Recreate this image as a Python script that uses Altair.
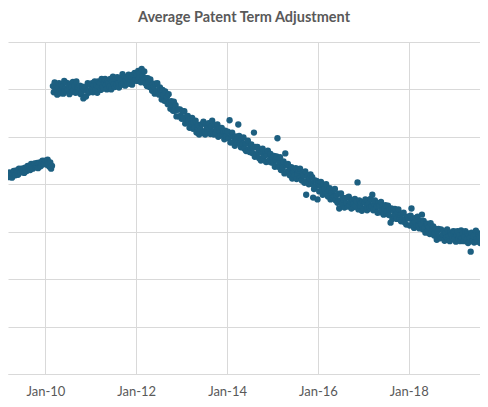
import altair as alt
import pandas as pd

# Weekly average PTA (days), one list per year
v2009 = [420, 415, 425, 419, 424, 414, 422, 428, 420, 419,
         429, 426, 420, 433, 426, 425, 433, 427, 433, 424,
         435, 433, 428, 439, 432, 436, 430, 443, 436, 433,
         441, 444, 436, 438, 445, 434, 443, 446, 438, 443,
         450, 442, 443, 450]
v2010 = [449, 441, 452, 444, 437, 446, 433, 439,
         607, 594, 615, 600, 610, 589, 604, 613, 597, 592,
         611, 606, 591, 618, 601, 596, 614, 599, 609, 590,
         612, 605, 595, 616, 598, 608, 593, 617, 602, 594,
         603, 608, 590, 593, 606, 581, 600, 604, 585, 597,
         613, 593, 596, 609]
v2011 = [600, 613, 594, 609, 617, 600, 609, 593, 617, 607,
         614, 599, 622, 605, 602, 615, 622, 609, 600, 618,
         613, 606, 622, 600, 617, 627, 611, 605, 622, 610,
         626, 614, 604, 622, 619, 610, 632, 613, 627, 608,
         620, 626, 613, 631, 612, 621, 625, 610, 631, 618,
         635, 620]
v2012 = [632, 618, 639, 623, 635, 615, 643, 628, 620, 638,
         613, 624, 607, 624, 615, 605, 621, 604, 597, 612,
         606, 591, 612, 596, 613, 597, 589, 604, 599, 579,
         599, 588, 576, 596, 576, 584, 569, 590, 572, 559,
         575, 567, 555, 574, 555, 567, 543, 557, 558, 543,
         558, 544]
v2013 = [538, 554, 539, 554, 528, 542, 530, 544, 534, 519,
         538, 527, 540, 517, 530, 519, 534, 509, 521, 525,
         505, 522, 515, 527, 508, 532, 511, 505, 525, 518,
         509, 529, 513, 506, 522, 534, 511, 505, 525, 508,
         516, 526, 500, 519, 510, 503, 519, 503, 511, 495,
         513, 501]
v2014 = [511, 497, 535, 488, 505, 509, 488, 499, 481, 501,
         494, 487, 526, 502, 486, 478, 496, 484, 499, 475,
         486, 470, 486, 492, 473, 468, 478, 484, 466, 477,
         509, 458, 479, 463, 479, 468, 455, 473, 450, 467,
         475, 456, 460, 468, 447, 463, 471, 448, 452, 464,
         446, 456]
v2015 = [446, 460, 437, 452, 459, 497, 437, 445, 457, 430,
         445, 435, 448, 423, 465, 440, 426, 443, 428, 419,
         432, 436, 412, 428, 432, 418, 434, 411, 422, 429,
         413, 433, 416, 408, 423, 418, 403, 427, 378, 407,
         417, 400, 412, 421, 401, 415, 372, 390, 408, 396,
         407, 368]
v2016 = [403, 385, 397, 405, 387, 378, 399, 390, 381, 400,
         382, 374, 388, 392, 368, 381, 372, 387, 374, 390,
         366, 377, 361, 380, 349, 366, 381, 359, 372, 367,
         351, 371, 360, 372, 353, 374, 355, 363, 349, 367,
         358, 352, 369, 354, 364, 404, 347, 366, 355, 361,
         344, 363]
v2017 = [348, 362, 368, 353, 345, 366, 359, 350, 369, 353,
         378, 345, 359, 366, 348, 354, 340, 360, 354, 341,
         363, 344, 355, 336, 348, 356, 339, 343, 355, 335,
         346, 319, 349, 327, 345, 334, 348, 335, 327, 342,
         347, 328, 336, 322, 338, 326, 340, 320, 327, 315,
         331, 332]
v2018 = [328, 313, 334, 349, 318, 328, 308, 321, 329, 312,
         332, 313, 307, 323, 316, 336, 305, 323, 309, 298,
         316, 317, 303, 310, 295, 318, 297, 307, 311, 292,
         298, 306, 283, 301, 306, 290, 286, 305, 287, 294,
         301, 281, 297, 288, 305, 283, 291, 280, 298, 294,
         286, 301]
v2019 = [284, 300, 279, 294, 301, 285, 292, 280, 303, 287,
         296, 280, 290, 301, 283, 297, 276, 294, 287, 258,
         298, 280, 291, 277, 295, 302, 284, 279, 294, 289,
         276, 297, 283, 299, 281, 291, 278, 296, 286, 293]

# first issue date (weekly, Tuesdays) for each yearly list
start_dates = ["2009-03-03", "2010-01-05", "2011-01-04", "2012-01-03",
               "2013-01-01", "2014-01-07", "2015-01-06", "2016-01-05",
               "2017-01-03", "2018-01-02", "2019-01-01"]
year_lists = [v2009, v2010, v2011, v2012, v2013, v2014, v2015, v2016,
              v2017, v2018, v2019]
tick_years = [2008, 2010, 2012, 2014, 2016, 2018, 2020]
y_ticks = [0, 100, 200, 300, 400, 500, 600, 700]

frames = []
for s, vals in zip(start_dates, year_lists):
    d = pd.date_range(s, periods=len(vals), freq="7D")
    frames.append(pd.DataFrame({"date": d.strftime("%Y-%m-%d"), "pta": vals}))
df = pd.concat(frames, ignore_index=True)

grid_col = "#d9d9d9"
txt_col = "#595959"

chart = alt.Chart(df).mark_circle(
    size=40, opacity=1, color="#1d5f80"
).encode(
    x=alt.X("date:T", title=None,
            scale=alt.Scale(type="utc",
                            domain=[alt.DateTime(year=2009, month=3, date=6, utc=True),
                                    alt.DateTime(year=2019, month=7, date=28, utc=True)]),
            axis=alt.Axis(values=[alt.DateTime(year=y, month=1, date=1, utc=True) for y in tick_years],
                          labelExpr="utcFormat(datum.value, '%b-%y')",
                          labelFont="Lato", labelFontSize=13, labelColor=txt_col,
                          labelPadding=11, ticks=False, domainColor=grid_col,
                          gridColor=grid_col, labelFlush=False, labelOverlap=False)),
    y=alt.Y("pta:Q", title=None,
            scale=alt.Scale(domain=[0, 700], nice=False),
            axis=alt.Axis(values=y_ticks, labels=False, ticks=False, domain=False,
                          gridColor=grid_col)),
).properties(
    width=472, height=332,
    title=alt.TitleParams("Average Patent Term Adjustment", font="Lato",
                          fontSize=14.5, fontWeight="bold", color=txt_col,
                          anchor="middle", offset=17),
    autosize=alt.AutoSizeParams(type="none"),
    padding={"top": 34, "left": 0, "right": 0, "bottom": 25},
).configure_view(stroke=None)

chart.save("out.html", embed_options={"renderer": "svg", "actions": False})
